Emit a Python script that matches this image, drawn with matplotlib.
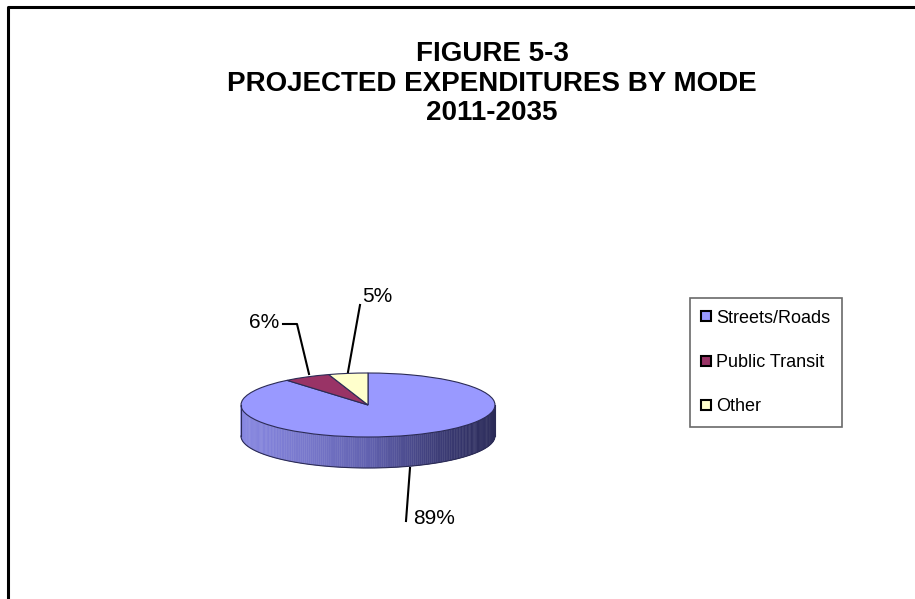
import matplotlib
matplotlib.use("Agg")
import matplotlib.pyplot as plt
import numpy as np
from matplotlib.lines import Line2D
from matplotlib.patches import Polygon
from matplotlib.colors import LinearSegmentedColormap

# data
modes = ["Streets/Roads", "Public Transit", "Other"]
shares = [89, 6, 5]
colors = ["#9999FF", "#993366", "#FFFFCC"]
title_lines = ["FIGURE 5-3", "PROJECTED EXPENDITURES BY MODE", "2011-2035"]

W, H = 915, 599
plt.rcParams['font.family'] = ['Liberation Sans', 'DejaVu Sans']
fig = plt.figure(figsize=(W / 100, H / 100), dpi=100)


def fx(x):
    return x / W


def fy(y):
    return 1 - y / H


# pie axes: center (368, 405) px, semi axes 127 x 32 px, depth 31 px
cx, cy, a, b = 368, 405, 127, 32
depth = 31 / b
x0, x1 = -1.1, 1.1
y0, y1 = -2.2, 1.3
ax = fig.add_axes([fx(cx + x0 * a), fy(cy - y0 * b),
                   (x1 - x0) * a / W, (y1 - y0) * b / H])
wedges, _ = ax.pie(shares, colors=colors, startangle=90, counterclock=False,
                   radius=1, center=(0, 0),
                   wedgeprops=dict(edgecolor="#2B2B55", linewidth=0.8))
ax.set_aspect('auto')
ax.set_xlim(x0, x1)
ax.set_ylim(y0, y1)
ax.axis('off')

# side of the 3d disc (front half, all Streets/Roads)
side_cmap = LinearSegmentedColormap.from_list(
    "side", ["#8888E2", "#7878CC", "#6262B0", "#40407C", "#2A2A58"])
t = np.linspace(np.pi, 2 * np.pi, 181)
for t1, t2 in zip(t[:-1], t[1:]):
    xm = (np.cos(t1) + np.cos(t2)) / 2
    poly = Polygon([(np.cos(t1), np.sin(t1)), (np.cos(t2), np.sin(t2)),
                    (np.cos(t2), np.sin(t2) - depth), (np.cos(t1), np.sin(t1) - depth)],
                   closed=True, facecolor=side_cmap((xm + 1) / 2),
                   edgecolor=side_cmap((xm + 1) / 2), linewidth=0.3, zorder=0)
    ax.add_patch(poly)
ax.plot(np.cos(t), np.sin(t) - depth, color="#2B2B55", lw=0.8, zorder=1)
ax.plot([-1, -1], [0, -depth], color="#2B2B55", lw=0.8, zorder=1)
ax.plot([1, 1], [0, -depth], color="#2B2B55", lw=0.8, zorder=1)

# overlay in pixel coordinates
ov = fig.add_axes([0, 0, 1, 1], facecolor='none')
ov.set_xlim(0, W)
ov.set_ylim(H, 0)
ov.axis('off')

# frame
ov.plot([7.5, 7.5, W], [H, 7, 7], color='black', lw=2.2, solid_capstyle='butt')

# title
for txt, ty in zip(title_lines, [54, 84, 113]):
    ov.text(492, ty, txt, ha='center', va='center', fontsize=20, fontweight='bold')

# data labels with leader lines
lbl = [f"{v}%" for v in shares]
ov.text(413, 519, lbl[0], ha='left', va='center', fontsize=15)
ov.plot([410, 406], [468, 521], color='black', lw=1.5)
ov.text(279, 322, lbl[1], ha='right', va='center', fontsize=15)
ov.plot([283, 297, 309], [324, 324, 374], color='black', lw=1.5)
ov.text(362, 296, lbl[2], ha='left', va='center', fontsize=15)
ov.plot([360, 348], [305, 372], color='black', lw=1.5)

# legend
handles = [Line2D([], [], marker='s', linestyle='none', markersize=7,
                  markerfacecolor=c, markeredgecolor='black', markeredgewidth=1.5)
           for c in colors]
leg = fig.legend(handles, modes, loc='upper left', bbox_to_anchor=(fx(690), fy(298)),
                 fontsize=13, frameon=True, fancybox=False, borderpad=0.65,
                 labelspacing=1.5, handlelength=0.5, handletextpad=0.3,
                 borderaxespad=0)
leg.get_frame().set_edgecolor('#444444')
leg.get_frame().set_linewidth(1.2)

fig.savefig("out.png", dpi=100)
